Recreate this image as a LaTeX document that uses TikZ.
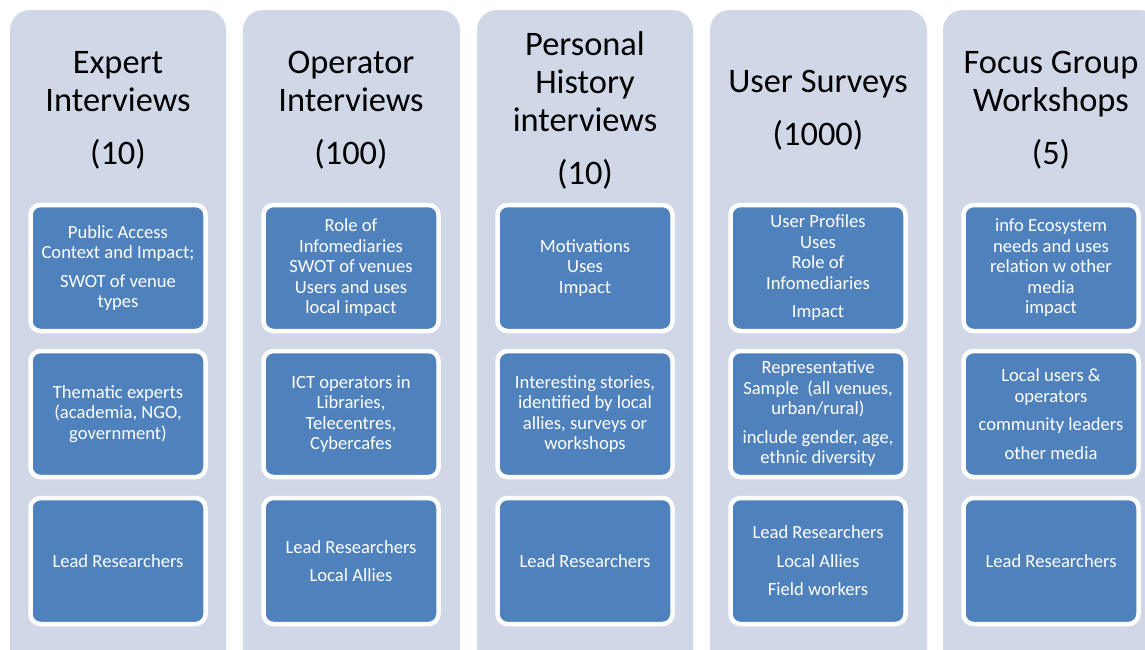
\documentclass[tikz,border=0pt]{standalone}
\usepackage{fontspec}
\setmainfont{Carlito}
\definecolor{colbg}{HTML}{D0D8E8}
\definecolor{boxblue}{HTML}{4F81BD}
\begin{document}
\begin{tikzpicture}[x=1pt,y=-1pt,
  column/.style={fill=colbg, rounded corners=20pt},
  item/.style={fill=boxblue, draw=white, line width=4.5pt, rounded corners=10pt,
    minimum width=175pt, minimum height=126pt, text=white, align=center,
    font=\fontsize{18.6}{20.5}\selectfont, inner sep=0pt},
  title/.style={align=center, font=\fontsize{34.4}{38}\selectfont, inner sep=0pt}]
\clip (0,0) rectangle (1145,649);
\fill[white] (0,0) rectangle (1145,649);
% columns
\fill[column] (10,10) rectangle (226,700);
\fill[column] (243,10) rectangle (460,700);
\fill[column] (477,10) rectangle (693,700);
\fill[column] (710,10) rectangle (927,700);
\fill[column] (943,10) rectangle (1160,700);
% titles
\node[title] (t1) at (118,110) {Expert\\Interviews\\[15pt](10)};
\node[title] (t2) at (351,110) {Operator\\Interviews\\[15pt](100)};
\node[title] (t3) at (585,110) {Personal\\History\\interviews\\[15pt](10)};
\node[title] (t4) at (818,110) {User Surveys\\[15pt](1000)};
\node[title] (t5) at (1051,110) {Focus Group\\Workshops\\[15pt](5)};
% column 1
\node[item] (a1) at (118,268) {Public Access\\Context and Impact;\\[8pt]SWOT of venue\\types};
\node[item] (a2) at (118,414) {Thematic experts\\(academia, NGO,\\government)};
\node[item] (a3) at (118,561) {Lead Researchers};
% column 2
\node[item] (b1) at (351,268) {Role of\\Infomediaries\\SWOT of venues\\Users and uses\\local impact};
\node[item] (b2) at (351,414) {ICT operators in\\Libraries,\\Telecentres,\\Cybercafes};
\node[item] (b3) at (351,561) {Lead Researchers\\[8pt]Local Allies};
% column 3
\node[item] (c1) at (585,268) {Motivations\\Uses\\Impact};
\node[item] (c2) at (585,414) {Interesting stories,\\identified by local\\allies, surveys or\\workshops};
\node[item] (c3) at (585,561) {Lead Researchers};
% column 4
\node[item] (d1) at (818,268) {User Profiles\\Uses\\Role of\\Infomediaries\\[8pt]Impact};
\node[item] (d2) at (818,414) {Representative\\Sample\ \ (all venues,\\urban/rural)\\[8pt]include gender, age,\\ethnic diversity};
\node[item] (d3) at (818,561) {Lead Researchers\\[8pt]Local Allies\\[8pt]Field workers};
% column 5
\node[item] (e1) at (1051,268) {info Ecosystem\\needs and uses\\relation w other\\media\\impact};
\node[item] (e2) at (1051,414) {Local users \&\\operators\\[8pt]community leaders\\[8pt]other media};
\node[item] (e3) at (1051,561) {Lead Researchers};
\end{tikzpicture}
\end{document}
